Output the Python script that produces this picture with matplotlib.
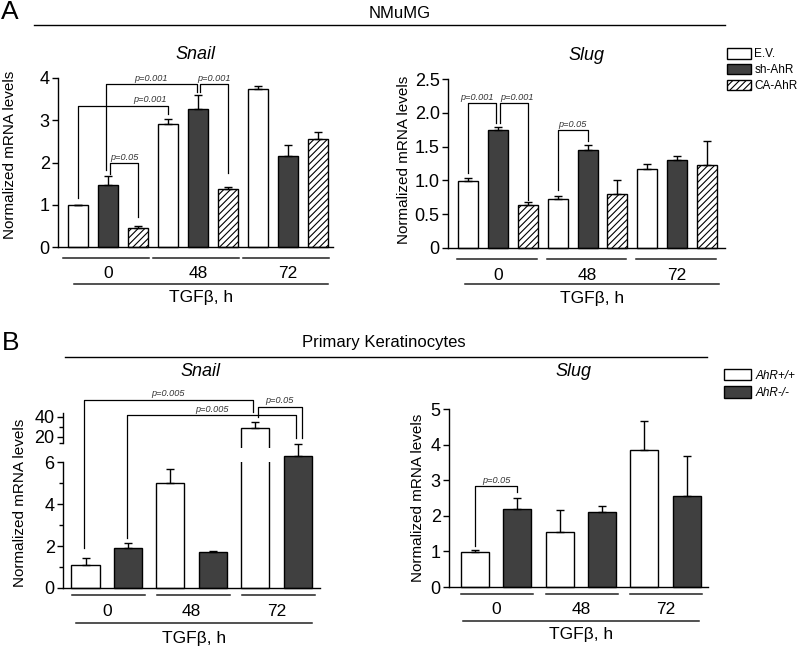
import numpy as np
import matplotlib
matplotlib.use("Agg")
import matplotlib.pyplot as plt
from matplotlib.patches import Patch, Rectangle
from matplotlib.transforms import ScaledTranslation

plt.rcParams['font.family'] = ['Liberation Sans', 'DejaVu Sans']
plt.rcParams['hatch.linewidth'] = 0.8

# ---------------- data ----------------
GROUPS = ["0", "48", "72"]

A_SERIES = ["E.V.", "sh-AhR", "CA-AhR"]
# rows = series, columns = TGFb time group
a_snail_mean = [[1.00, 2.92, 3.73], [1.46, 3.27, 2.15], [0.46, 1.38, 2.55]]
a_snail_err = [[0.00, 0.11, 0.08], [0.22, 0.33, 0.26], [0.04, 0.05, 0.17]]
a_slug_mean = [[0.99, 0.725, 1.17], [1.74, 1.455, 1.30], [0.63, 0.80, 1.23]]
a_slug_err = [[0.045, 0.045, 0.07], [0.05, 0.075, 0.06], [0.045, 0.21, 0.35]]

B_SERIES = ["AhR+/+", "AhR-/-"]
b_snail_mean = [[1.08, 5.03, 29.0], [1.92, 1.70, 6.30]]
b_snail_err = [[0.33, 0.67, 5.5], [0.22, 0.09, 0.60]]
b_slug_mean = [[0.97, 1.54, 3.86], [2.20, 2.10, 2.57]]
b_slug_err = [[0.07, 0.61, 0.81], [0.30, 0.17, 1.12]]

# significance brackets: (x left, x right, y left leg, y top, y right leg, label, label x)
a_snail_sig = [(0.00, 3.00, 1.15, 3.34, 3.15, "p=0.001", 2.4),
               (0.93, 3.95, 1.82, 3.86, 3.67, "p=0.001", None),
               (4.08, 5.00, 3.67, 3.86, 1.75, "p=0.001", None),
               (1.07, 2.00, 1.72, 1.99, 0.71, "p=0.05", None)]
a_slug_sig = [(0.00, 0.93, 1.11, 2.145, 1.85, "p=0.001", 0.3),
              (1.07, 2.00, 1.85, 2.145, 0.715, "p=0.001", 1.64),
              (3.00, 4.00, 0.86, 1.74, 1.58, "p=0.05", None)]
b_snail_sig = [(-0.04, 3.94, 1.9, 57.5, 45.0, "p=0.005", None),
               (0.98, 4.96, 2.4, 42.0, 19.0, "p=0.005", None),
               (4.06, 5.09, 40.0, 50.3, 19.0, "p=0.05", None)]
b_slug_sig = [(0.00, 1.00, 1.14, 2.83, 2.66, "p=0.05", None)]

DARK = "#404040"
A_STYLE = [dict(color="white"), dict(color=DARK), dict(color="white", hatch="/////")]
B_STYLE = [dict(color="white"), dict(color=DARK)]

W, H = 800, 649
fig = plt.figure(figsize=(W / 100, H / 100), dpi=100)


def px_axes(l, t, r, b):
    return fig.add_axes([l / W, 1 - b / H, (r - l) / W, (b - t) / H])


def below(ax, dy):
    # x in data, y = axes bottom shifted down by dy pixels
    return ax.get_xaxis_transform() + ScaledTranslation(0, -dy / 100, fig.dpi_scale_trans)


def style_axes(ax, xlim):
    ax.set_xlim(*xlim)
    for s in ("top", "right"):
        ax.spines[s].set_visible(False)
    for s in ("left", "bottom"):
        ax.spines[s].set_linewidth(1.0)
    ax.set_xticks([])
    ax.tick_params(axis="y", direction="out", length=4, width=1.0, labelsize=13, pad=2)
    ax.tick_params(axis="y", which="minor", length=3, width=1.0)


def draw_bars(ax, means, errs, styles, width):
    n = len(means)
    for s, st in enumerate(styles):
        x = np.arange(len(GROUPS)) * n + s
        ax.bar(x, means[s], width, color=st["color"], hatch=st.get("hatch"),
               edgecolor="black", linewidth=1.0, zorder=2, clip_on=False)
        eb = ax.errorbar(x, means[s], yerr=[np.zeros(len(x)), errs[s]], fmt="none",
                         ecolor="black", elinewidth=1.0, capsize=3, capthick=1.0, zorder=3)
        for art in list(eb[1]) + list(eb[2]):
            art.set_clip_on(False)


def draw_sig(ax, sig):
    for xl, xr, yl, yt, yr, lab, lx in sig:
        ax.plot([xl, xl, xr, xr], [yl, yt, yt, yr], color="black", lw=0.9,
                clip_on=False, zorder=4)
        lx = (xl + xr) / 2 if lx is None else lx
        ax.annotate(lab, (lx, yt), xytext=(0, 1.0), textcoords="offset points",
                    ha="center", va="bottom", fontsize=6.6, style="italic",
                    color="#333333", annotation_clip=False)


def group_axis(ax, n, a, b, la, lb, dys):
    d_line, d_lab, d_long, d_title = dys
    for g, lab in enumerate(GROUPS):
        ax.plot([g * n + a, g * n + b], [0, 0], transform=below(ax, d_line),
                color="#222222", lw=1.1, clip_on=False)
        ax.text(g * n + (n - 1) / 2, 0, lab, transform=below(ax, d_lab),
                ha="center", va="center", fontsize=12.5)
    ax.plot([la, lb], [0, 0], transform=below(ax, d_long), color="#222222",
            lw=1.1, clip_on=False)
    ax.text((la + lb) / 2, 0, "TGFβ, h", transform=below(ax, d_title),
            ha="center", va="center", fontsize=12.5)


def ylabel(ax, x_px, y_px):
    # x_px = right edge of the rotated label
    ax.set_ylabel("Normalized mRNA levels", fontsize=11)
    bb = ax.get_position()
    l, b, w, h = bb.x0 * W, (1 - bb.y0) * H, bb.width * W, bb.height * H
    ax.yaxis.set_label_coords((x_px - l) / w, (b - y_px) / h)


# ---------------- panel A ----------------
ax1 = px_axes(58, 78, 333, 247)
draw_bars(ax1, a_snail_mean, a_snail_err, A_STYLE, 0.67)
style_axes(ax1, (-0.67, 8.5))
ax1.set_ylim(0, 4)
ax1.set_yticks([0, 1, 2, 3, 4])
draw_sig(ax1, a_snail_sig)
group_axis(ax1, 3, -0.5, 2.35, -0.13, 8.33, (11, 26, 37, 50))
ax1.set_title("Snail", style="italic", fontsize=13, pad=14)
ylabel(ax1, 17, 155)

ax2 = px_axes(448, 79, 725, 248)
draw_bars(ax2, a_slug_mean, a_slug_err, A_STYLE, 0.67)
style_axes(ax2, (-0.67, 8.6))
ax2.set_ylim(0, 2.5)
ax2.set_yticks([0, 0.5, 1.0, 1.5, 2.0, 2.5])
ax2.set_yticklabels(["0", "0.5", "1.0", "1.5", "2.0", "2.5"])
draw_sig(ax2, a_slug_sig)
group_axis(ax2, 3, -0.37, 2.3, -0.1, 8.4, (11, 27, 36, 50))
ax2.set_title("Slug", style="italic", fontsize=13, pad=14)
ylabel(ax2, 411, 160)

# ---------------- panel B ----------------
# broken axis: linear 0..6.92, then a jump, upper segment 14..44 at 1/21 of the scale
SEG_V = [-10, 0, 6.92, 14, 100]
SEG_U = [-10, 0, 6.92, 6.93, 6.93 + 86 / 21]


def fwd(v):
    return np.interp(v, SEG_V, SEG_U)


def inv(u):
    return np.interp(u, SEG_U, SEG_V)


ax3 = px_axes(63, 413, 320, 588)
ax3.set_yscale("function", functions=(fwd, inv))
draw_bars(ax3, b_snail_mean, b_snail_err, B_STYLE, 0.66)
style_axes(ax3, (-0.53, 5.52))
ax3.set_ylim(0, 44)
ax3.set_yticks([0, 2, 4, 6, 20, 40])
ax3.set_yticks([1, 3, 5, 14, 30], minor=True)
ax3.yaxis.set_minor_formatter(plt.NullFormatter())
ax3.set_yticklabels(["0", "2", "4", "6", "20", "40"])
ax3.spines["left"].set_bounds(0, 6)
ax3.plot([0, 0], [14, 44], transform=ax3.get_yaxis_transform(), color="black",
         lw=1.0, clip_on=False)
# break in the tall bar
xb = 4
ax3.add_patch(Rectangle((xb - 0.4, 6.02), 0.8, 0.66, facecolor="white",
                        edgecolor="none", zorder=2.5))
draw_sig(ax3, b_snail_sig)
group_axis(ax3, 2, -0.32, 1.4, -0.22, 5.33, (7, 24, 35, 50))
ylabel(ax3, 27, 503)

ax4 = px_axes(449, 409, 708, 587)
draw_bars(ax4, b_slug_mean, b_slug_err, B_STYLE, 0.66)
style_axes(ax4, (-0.61, 5.5))
ax4.set_ylim(0, 5)
ax4.set_yticks([0, 1, 2, 3, 4, 5])
draw_sig(ax4, b_slug_sig)
group_axis(ax4, 2, -0.33, 1.37, -0.28, 5.28, (7, 22, 34, 48))
ylabel(ax4, 425, 498)

# ---------------- figure-level text ----------------
fig.text(10 / W, 1 - 12 / H, "A", fontsize=19, ha="center", va="center")
fig.text(400 / W, 1 - 14 / H, "NMuMG", fontsize=12, ha="center", va="center")
fig.add_artist(plt.Line2D([34 / W, 725 / W], [1 - 25 / H] * 2, color="black", lw=1.0))

fig.text(11 / W, 1 - 343 / H, "B", fontsize=19, ha="center", va="center")
fig.text(384 / W, 1 - 343 / H, "Primary Keratinocytes", fontsize=12, ha="center", va="center")
fig.add_artist(plt.Line2D([65 / W, 707 / W], [1 - 357 / H] * 2, color="black", lw=1.0))
fig.text(200 / W, 1 - 371 / H, "Snail", style="italic", fontsize=13, ha="center", va="center")
fig.text(573 / W, 1 - 371 / H, "Slug", style="italic", fontsize=13, ha="center", va="center")

# legends
a_handles = [Patch(facecolor=st["color"], edgecolor="black", hatch=st.get("hatch"), lw=1.0)
             for st in A_STYLE]
fig.legend(a_handles, A_SERIES, loc="upper left", bbox_to_anchor=(727 / W, 1 - 48 / H),
           frameon=False, fontsize=8.5, handlelength=2.0, handleheight=1.0,
           handletextpad=0.3, labelspacing=0.3, borderpad=0, borderaxespad=0)
b_handles = [Patch(facecolor=st["color"], edgecolor="black", lw=1.0) for st in B_STYLE]
fig.legend(b_handles, B_SERIES, loc="upper left", bbox_to_anchor=(724 / W, 1 - 369 / H),
           frameon=False, prop={"size": 8.5, "style": "italic"}, handlelength=2.3,
           handleheight=1.1, handletextpad=0.4, labelspacing=0.4, borderpad=0,
           borderaxespad=0)

fig.savefig("out.png", dpi=100)
